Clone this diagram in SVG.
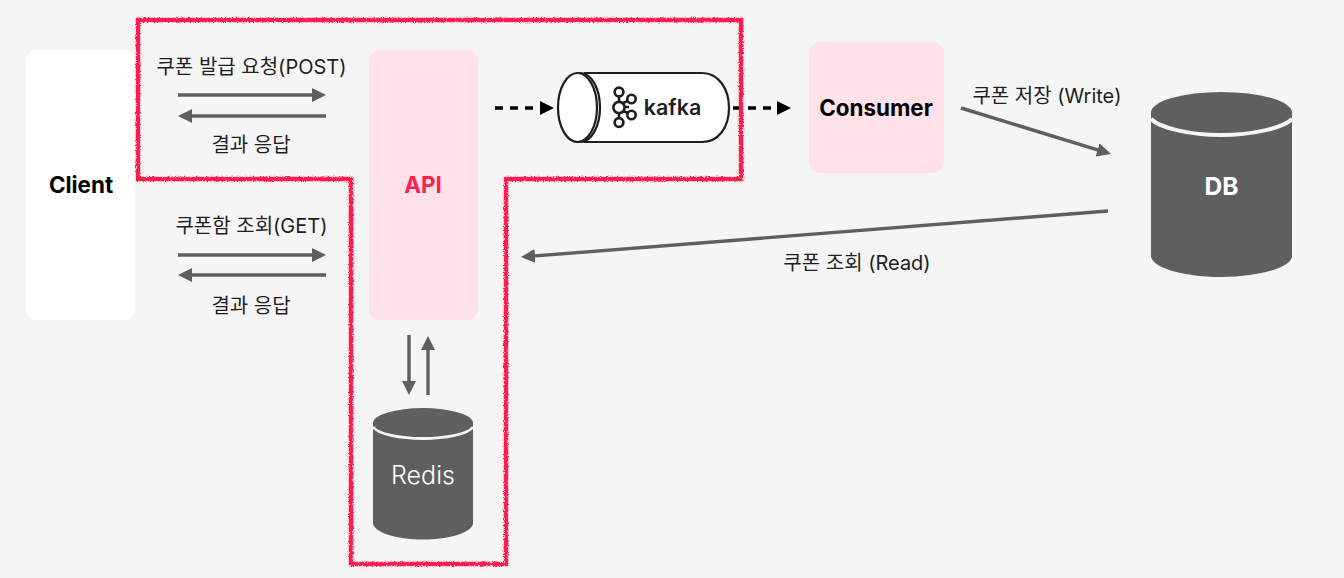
<svg xmlns="http://www.w3.org/2000/svg" width="1344" height="578" viewBox="0 0 1344 578">
<style>
text{font-family:Inter,"Noto Sans CJK KR","Liberation Sans",sans-serif;text-anchor:middle}
.l{font-size:20px;fill:#1e1e1e}
.b{font-size:22.4px;font-weight:700}
.c{stroke:#5f5f5f;stroke-width:3.4;fill:none}
.d{stroke:#000;stroke-width:3.4;stroke-dasharray:8 7;fill:none}
.k{stroke:#1e1e1e;stroke-width:2.2;fill:#fff}
</style>
<defs>
<marker id="g" markerUnits="userSpaceOnUse" markerWidth="14" markerHeight="14" refX="6" refY="7" orient="auto"><path d="M0 0L14 7L0 14Z" fill="#5f5f5f"/></marker>
<marker id="bk" markerUnits="userSpaceOnUse" markerWidth="14" markerHeight="14" refX="6" refY="7" orient="auto"><path d="M0 0L14 7L0 14Z" fill="#000"/></marker>
<filter id="rough" x="-5%" y="-5%" width="110%" height="110%"><feTurbulence type="fractalNoise" baseFrequency="0.9" numOctaves="2" seed="3"/><feDisplacementMap in="SourceGraphic" scale="3.5"/></filter>
</defs>
<rect width="1344" height="578" fill="#f5f5f5"/>
<g id="client"><rect x="26" y="50" width="109" height="270" rx="11" fill="#fff"/><text class="b" x="81" y="193" fill="#000">Client</text></g>
<g id="api"><rect x="369" y="50" width="109" height="270" rx="11" fill="#ffe1e9"/><text class="b" x="423" y="193" fill="#ff2050">API</text></g>
<g id="consumer"><rect x="809" y="42" width="135" height="131" rx="11" fill="#ffe1e9"/><text class="b" x="876" y="116" fill="#000">Consumer</text></g>
<g id="kafka">
<path class="k" d="M585 73H702C718 73 729 88 729 108C729 128 718 142 702 142H585Z"/>
<ellipse class="k" cx="580.500" cy="107.500" rx="19.500" ry="34.500"/>
<ellipse class="k" cx="577.500" cy="107.500" rx="19.500" ry="34.500"/>
<g fill="none" stroke="#1e1e1e" stroke-width="2.600"><path d="M619 97V102M619 113V118M625 107H629M623 103L628 101M623 111L628 113"/>
<circle cx="619" cy="92" r="4.400"/><circle cx="619" cy="107.500" r="5.600"/><circle cx="619" cy="122.500" r="4.400"/><circle cx="631.500" cy="99" r="4.200"/><circle cx="631.500" cy="115" r="4.200"/></g>
<text x="672.500" y="115" font-size="21.500" font-weight="600" fill="#1e1e1e">kafka</text>
</g>
<g id="db"><path d="M1151 113V256C1151 267 1182 277 1221 277C1260 277 1292 267 1292 256V113Z" fill="#5f5f5f"/><ellipse cx="1221.500" cy="112.500" rx="70.500" ry="20.500" fill="#5f5f5f"/><path d="M1151 119C1160 128 1190 135 1221 135C1252 135 1283 128 1292 119" fill="none" stroke="#f5f5f5" stroke-width="4"/><text x="1221.500" y="194.500" font-size="24.500" font-weight="700" fill="#fff">DB</text></g>
<g id="redis"><path d="M373 423V523C373 532 396 539.500 423 539.500C450 539.500 473 532 473 523V423Z" fill="#5f5f5f"/><ellipse cx="423" cy="423" rx="50" ry="15" fill="#5f5f5f"/><path d="M373 427C378 434 400 438.500 423 438.500C446 438.500 468 434 473 427" fill="none" stroke="#f5f5f5" stroke-width="2.800"/><text x="423" y="484" font-size="25" font-weight="300" fill="#fff">Redis</text></g>
<g id="connectors">
<path class="c" d="M178 95H318" marker-end="url(#g)"/>
<path class="c" d="M326 116H186" marker-end="url(#g)"/>
<path class="c" d="M178 255H318" marker-end="url(#g)"/>
<path class="c" d="M326 275H186" marker-end="url(#g)"/>
<path class="c" d="M409 335V387" marker-end="url(#g)"/>
<path class="c" d="M428 395V344" marker-end="url(#g)"/>
<path class="c" d="M961 108L1103.300 151.700" marker-end="url(#g)"/>
<path class="c" d="M1108 211L529 256.400" marker-end="url(#g)"/>
<path class="d" d="M495 108H546" marker-end="url(#bk)"/>
<path class="d" d="M733 108H783" marker-end="url(#bk)"/>
</g>
<g id="labels">
<text class="l" x="251.500" y="74">쿠폰 발급 요청(POST)</text>
<text class="l" x="251" y="152">결과 응답</text>
<text class="l" x="251.500" y="233">쿠폰함 조회(GET)</text>
<text class="l" x="251" y="313">결과 응답</text>
<text class="l" x="1047" y="103">쿠폰 저장 (Write)</text>
<text class="l" x="857" y="270">쿠폰 조회 (Read)</text>
</g>
<path id="highlight" d="M138 20H741V179H506V564H351V179H138Z" fill="none" stroke="#ff1f4f" stroke-width="4.500" filter="url(#rough)"/>
</svg>
